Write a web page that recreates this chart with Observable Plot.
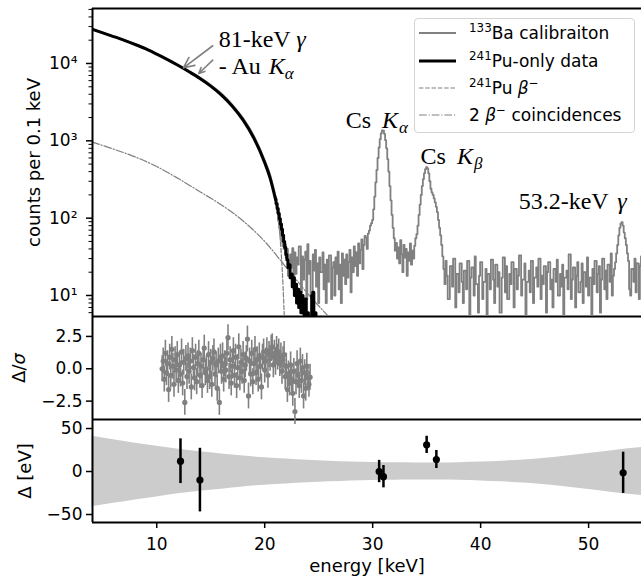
<!DOCTYPE html>
<html><head><meta charset="utf-8">
<script src="https://cdn.jsdelivr.net/npm/d3@7"></script>
<script src="https://cdn.jsdelivr.net/npm/@observablehq/plot@0.6"></script>
<style>
body{margin:0;background:#fff;}
#wrap{position:relative;width:641px;height:578px;overflow:hidden;font-family:"DejaVu Sans",sans-serif;}
#wrap svg.panel{position:absolute;left:0;top:0;background:transparent;}
#legend{position:absolute;left:414px;top:18px;width:221px;height:115px;border:1px solid #d4d4d4;border-radius:4px;background:rgba(255,255,255,0.85);box-sizing:border-box;font-size:17px;color:#000;}
#legend .row{position:absolute;left:0;height:22px;display:flex;align-items:center;white-space:nowrap;}
#legend .row svg{margin-left:4px;margin-right:13px;}
#legend sup{font-size:0.7em;vertical-align:0.55em;line-height:0;}
</style></head>
<body><div id="wrap"></div>
<script>
// ---------------- data ----------------
const xDomain = [4.05, 54.9];

// smooth part of the spectra (keV, counts per 0.1 keV)
const smoothE = [4,5,6,7,8,9,10,11,12,13,14,15,16,17,18,19,20,20.5,21];
const puSmooth = [27700,24900,22300,19900,17600,15400,13200,11200,9400,7800,6400,5100,3900,2800,1850,1080,520,330,175];
const baSmooth = [27800,25000,22400,20000,17700,15500,13300,11300,9500,7950,6550,5250,4050,2920,1950,1150,560,360,190];

// binned (0.1 keV) parts
const binWidth = 0.1;
const baStart = 21.0;
const baCounts = [
 190,150,118,92,74,60,50,44,40,46,
 31,40,18,18,34,23,41,12,36,19,
 31,25,43,43,11,32,16,29,37,9,
 46,19,28,10,10,34,21,39,13,26,
 8,31,20,20,36,12,25,8,29,15,
 33,33,9,23,27,10,31,19,37,12,
 25,8,35,18,29,14,34,17,27,39,
 11,31,20,43,24,36,18,47,26,39,
 53,22,45,59,56,40,63,69,80,86,
 95,130,190,290,420,600,820,1050,1250,1360,
 1350,1230,1020,800,580,400,260,170,110,75,
 55,38,48,30,42,26,52,34,20,45,
 31,40,18,36,28,47,25,38,30,44,
 55,62,80,110,150,200,260,320,380,430,
 455,440,380,300,240,215,200,180,160,140,
 120,95,75,60,45,32,22,14,28,18,
 9,9,24,24,13,30,30,7,19,19,
 11,26,26,15,8,21,21,12,28,28,
 5,17,23,23,10,32,14,14,6,18,
 27,27,9,15,15,22,4,19,19,12,
 29,29,16,8,25,25,13,20,6,6,
 17,31,31,11,24,9,9,19,14,27,
 27,7,22,22,12,18,33,33,10,16,
 16,26,5,15,15,21,11,28,28,8,
 17,17,23,13,30,30,9,18,14,24,
 24,6,20,27,27,12,16,7,22,22,
 15,29,10,10,19,13,25,4,17,17,
 21,12,34,34,9,16,23,23,7,18,
 27,11,11,15,26,8,20,20,13,31,
 10,17,17,5,22,14,28,28,11,19,
 24,6,16,30,30,12,21,9,25,25,
 15,35,10,18,22,27,35,45,60,75,
 85,89,80,65,55,45,35,28,12,10,
 22,22,15,30,11,26,26,9,24,32,
 14];
const puStart = 21.0;
const puCounts = [
 175,155,133,115,98,84,72,60,50,42,
 34,29,23,25,17,19,13,17,10,14,
 8,12,7,11,6,10,8,5,9,4,
 6,3,5,3,10,11,4,6,3,2,1];

// model curves
const betaE = [4,5,6,7,8,9,10,11,12,13,14,15,16,17,18,19,20,20.5,21,21.2,21.4,21.55,21.7,21.8,21.9,22.0];
const betaCounts = [27700,24900,22300,19900,17600,15400,13200,11200,9400,7800,6400,5100,3900,2800,1850,1080,520,330,165,110,62,32,13,6,2.5,1];
const coinE = [4,6,8,10,12,14,16,18,20,22,24,26,27];
const coinCounts = [966,780,620,465,325,220,148,92,50,23,10.5,5.2,3.7];

// annotations
const annText = ["81-keV γ", "- Au Kα", "Cs Kα", "Cs Kβ", "53.2-keV γ"];
const annE = [15.74, 15.74, 27.5, 34.44, 43.52];
const annCounts = [16260, 7210, 1486, 505, 132];
const arrowFromE = [15.19, 15.19];
const arrowFromC = [16950, 11030];
const arrowToE = [12.47, 13.89];
const arrowToC = [8790, 7430];

// residuals Δ/σ (0.1 keV steps)
const residStart = 10.5;
const residVals = [
 0.0,0.6,-0.8,1.2,-0.3,0.4,-1.6,0.9,-0.5,1.5,
 0.2,-1.2,0.7,-0.1,1.1,-0.9,0.3,-0.4,1.3,-1.1,
 0.5,-2.6,0.8,-0.6,1.0,-0.2,0.6,-1.4,1.4,0.1,
 -0.7,0.9,-1.0,0.4,1.2,-0.5,0.2,-1.3,0.7,1.6,
 -0.3,0.0,-0.9,1.1,-0.6,0.5,-1.2,0.8,1.3,-0.4,
 0.3,-1.5,0.6,-2.6,0.9,-0.2,1.0,-0.8,0.4,-0.1,
 1.2,2.4,-0.6,0.7,-1.1,0.2,1.4,-0.5,0.9,-1.3,
 0.1,1.7,-0.7,0.5,-0.2,1.1,-0.9,0.3,0.8,2.3,
 -2.1,0.6,-0.4,1.2,-1.0,0.4,1.5,-0.3,0.7,-0.8,
 1.0,0.2,-1.4,0.9,1.3,-0.1,0.6,1.4,-0.5,1.1,
 0.8,1.6,1.7,0.3,1.2,0.5,1.5,0.9,1.3,0.4,
 1.0,-0.2,0.7,1.1,-0.6,0.2,-1.6,-0.4,-1.1,0.3,
 -0.8,-1.9,-0.2,-3.3,-1.0,0.4,-0.5,-1.3,0.6,-0.9,
 0.1,-2.1,-0.3,-1.5,0.2,-0.7,-1.2,-0.65];

// calibration residuals Δ [eV]
const calE = [12.2, 14.0, 30.6, 31.0, 35.0, 35.9, 53.2];
const calDelta = [12, -10, 0, -6, 31, 14, -1.5];
const calErr = [26, 37, 13, 13, 10, 10.5, 24];
const bandE = [4,6,8,10,12,14,16,18,20,22,24,26,28,30,32,34,36,38,40,42,44,46,48,50,52,55];
const bandHW = [41,37,33,29.5,26,23,20.5,18,16,14.5,13,12,11,10.5,10.2,10,10,10.3,11,12,13.5,15.5,18,21,24,28];

// ticks
const majorLog = [10,100,1000,10000];
const minorLog = [6,7,8,9,20,30,40,50,60,70,80,90,200,300,400,500,600,700,800,900,2000,3000,4000,5000,6000,7000,8000,9000,20000,30000,40000,50000];
const residTicks = [-2.5, 0, 2.5];
const calTicks = [-50, 0, 50];
const xTicks = [10,20,30,40,50];

const legendLabels = ['<sup>133</sup>Ba calibraiton', '<sup>241</sup>Pu-only data', '<sup>241</sup>Pu <i>β</i><sup>−</sup>', '2 <i>β</i><sup>−</sup> coincidences'];

// ---------------- tables ----------------
const smoothPu = smoothE.map((e,i)=>({e, c: puSmooth[i]}));
const smoothBa = smoothE.map((e,i)=>({e, c: baSmooth[i]}));
const baBins = baCounts.map((c,i)=>({e: +(baStart + i*binWidth).toFixed(2), c}));
const puBins = puCounts.map((c,i)=>({e: +(puStart + i*binWidth).toFixed(2), c}));
const beta = betaE.map((e,i)=>({e, c: betaCounts[i]}));
const coin = coinE.map((e,i)=>({e, c: coinCounts[i]}));
const ann = annText.map((t,i)=>({t, e: annE[i], c: annCounts[i]}));
const arrows = arrowFromE.map((e,i)=>({x1: e, y1: arrowFromC[i], x2: arrowToE[i], y2: arrowToC[i]}));
const resid = residVals.map((r,i)=>({e: +(residStart + i*binWidth).toFixed(2), r}));
const cal = calE.map((e,i)=>({e, d: calDelta[i], s: calErr[i]}));
const band = bandE.map((e,i)=>({e, h: bandHW[i]}));

const W = 641, H = 578, GRAY = "#808080";
const sup = {1:"¹",2:"²",3:"³",4:"⁴"};
const common = {width: W, height: H, marginLeft: 92, marginRight: 0,
  style: {background: "transparent", fontFamily: "DejaVu Sans", fontSize: "17px", color: "black"}};

const yTop = [5.35, 51400], yMid = [-3.92, 4.04], yBot = [-59.3, 60.5];
const ylab = (t, dx) => Plot.text([t], {frameAnchor: "left", textAnchor: "middle", lineAnchor: "middle", rotate: -90, dx, fontSize: 18, fill: "black"});

const p1 = Plot.plot({...common, marginTop: 8, marginBottom: H - 316,
  x: {domain: xDomain, axis: null},
  y: {type: "log", domain: yTop},
  marks: [
    Plot.axisY({ticks: minorLog, tickSize: 3.5, tickFormat: () => "", strokeWidth: 1, label: null}),
    Plot.axisY({ticks: majorLog, tickSize: 6, tickPadding: 9, strokeWidth: 1.5, label: null,
      tickFormat: d => "10" + sup[Math.round(Math.log10(d))]}),
    Plot.line(coin, {x: "e", y: "c", stroke: GRAY, strokeWidth: 1.2, strokeDasharray: "7.7,1.9,1.2,1.9", curve: "monotone-x", clip: true}),
    Plot.line(smoothBa, {x: "e", y: "c", stroke: GRAY, strokeWidth: 2, curve: "monotone-x", clip: true}),
    Plot.line(baBins, {x: "e", y: "c", stroke: GRAY, strokeWidth: 1.8, curve: "step", clip: true}),
    Plot.line(beta, {x: "e", y: "c", stroke: GRAY, strokeWidth: 1.2, strokeDasharray: "4.4,1.9", curve: "monotone-x", clip: true}),
    Plot.line(smoothPu, {x: "e", y: "c", stroke: "black", strokeWidth: 3, curve: "monotone-x", clip: true}),
    Plot.line(puBins, {x: "e", y: "c", stroke: "black", strokeWidth: 3, curve: "step", clip: true}),
    Plot.arrow(arrows, {x1: "x1", y1: "y1", x2: "x2", y2: "y2", stroke: GRAY, strokeWidth: 1.6, headLength: 11, headAngle: 50}),
    Plot.text(ann, {x: "e", y: "c", text: "t", textAnchor: "start", lineAnchor: "bottom", fontFamily: "Liberation Serif", fontSize: 24, fill: "black"}),
    ylab("counts per 0.1 keV", -58),
    Plot.ruleX([xDomain[0]], {strokeWidth: 2}),
    Plot.ruleY([yTop[1]], {strokeWidth: 2})
  ]});

const p2 = Plot.plot({...common, marginTop: 316, marginBottom: H - 419,
  x: {domain: xDomain, axis: null},
  y: {domain: yMid},
  marks: [
    Plot.axisY({ticks: residTicks, tickSize: 6, tickPadding: 4, strokeWidth: 1.5, label: null, tickFormat: d3.format(".1f")}),
    Plot.ruleX(resid, {x: "e", y1: d => d.r - 1, y2: d => d.r + 1, stroke: GRAY, strokeWidth: 1.6}),
    Plot.dot(resid, {x: "e", y: "r", r: 2.6, fill: GRAY, stroke: "none"}),
    ylab("Δ/σ", -73),
    Plot.ruleX([xDomain[0]], {strokeWidth: 2}),
    Plot.ruleY([yMid[1]], {strokeWidth: 2})
  ]});

const p3 = Plot.plot({...common, marginTop: 419, marginBottom: H - 522,
  x: {domain: xDomain},
  y: {domain: yBot},
  marks: [
    Plot.areaY(band, {x: "e", y1: d => -d.h, y2: d => d.h, fill: "#cccccc", curve: "monotone-x"}),
    Plot.axisY({ticks: calTicks, tickSize: 6, tickPadding: 4, strokeWidth: 1.5, label: null, tickFormat: d3.format("d")}),
    Plot.axisX({ticks: xTicks, tickSize: 6, tickPadding: 9, strokeWidth: 1.5, label: null, tickFormat: d3.format("d")}),
    Plot.ruleX(cal, {x: "e", y1: d => d.d - d.s, y2: d => d.d + d.s, stroke: "black", strokeWidth: 2.5}),
    Plot.dot(cal, {x: "e", y: "d", r: 3.6, fill: "black", stroke: "none"}),
    ylab("Δ [eV]", -67),
    Plot.text(["energy [keV]"], {frameAnchor: "bottom", textAnchor: "middle", lineAnchor: "middle", dy: 44, fontSize: 18, fill: "black"}),
    Plot.ruleX([xDomain[0]], {strokeWidth: 2}),
    Plot.ruleY([yBot[0], yBot[1]], {strokeWidth: 2})
  ]});

const richMap = {
  "81-keV γ": '81-keV <tspan font-style="italic">γ</tspan>',
  "- Au Kα": '- Au <tspan font-style="italic" dx="2">K</tspan><tspan font-style="italic" font-size="17" dy="5">α</tspan>',
  "Cs Kα": 'Cs <tspan font-style="italic" dx="5">K</tspan><tspan font-style="italic" font-size="17" dy="5" dx="1">α</tspan>',
  "Cs Kβ": 'Cs <tspan font-style="italic" dx="5">K</tspan><tspan font-style="italic" font-size="17" dy="5" dx="1">β</tspan>',
  "53.2-keV γ": '53.2-keV <tspan font-style="italic" dx="3">γ</tspan>',
  "Δ/σ": 'Δ/<tspan font-style="italic">σ</tspan>'
};
const wrap = document.getElementById("wrap");
for (const p of [p3, p2, p1]) {
  p.classList.add("panel");
  p.querySelectorAll("text").forEach(t => { const s = t.textContent; if (richMap[s]) t.innerHTML = richMap[s]; });
  wrap.appendChild(p);
}

// legend
const legendDash = [null, null, "4.4,1.9", "7.7,1.9,1.2,1.9"];
const legendColor = [GRAY, "black", GRAY, GRAY];
const legendWidth = [2, 3, 1.2, 1.2];
const legendTop = [14, 42, 69, 96];
const lg = document.createElement("div");
lg.id = "legend";
legendLabels.forEach((lab, i) => {
  const row = document.createElement("div");
  row.className = "row";
  row.style.top = (legendTop[i] - 11) + "px";
  row.innerHTML = `<svg width="37" height="10"><line x1="0" x2="37" y1="5" y2="5" stroke="${legendColor[i]}" stroke-width="${legendWidth[i]}" ${legendDash[i] ? `stroke-dasharray="${legendDash[i]}"` : ""}/></svg><span>${lab}</span>`;
  lg.appendChild(row);
});
wrap.appendChild(lg);
</script></body></html>
